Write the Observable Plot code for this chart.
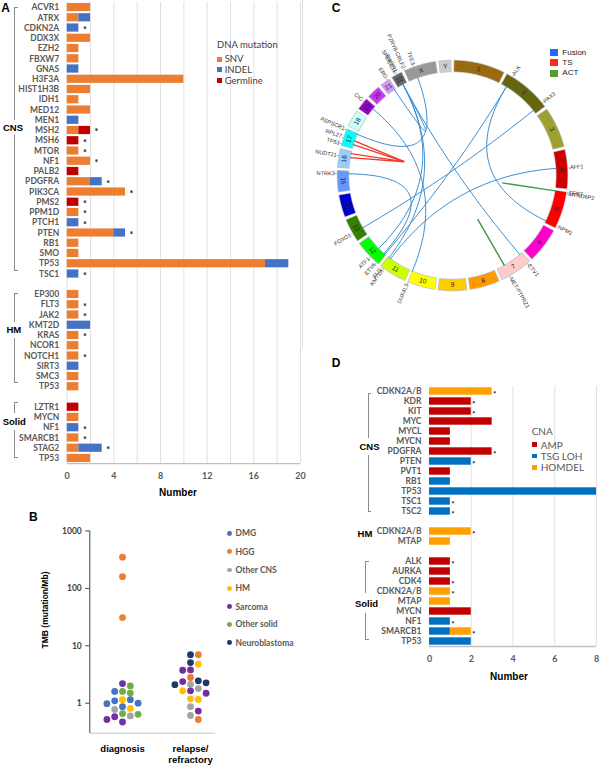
<!DOCTYPE html>
<html>
<head>
<meta charset="utf-8">
<script src="https://cdn.jsdelivr.net/npm/d3@7"></script>
<script src="https://cdn.jsdelivr.net/npm/@observablehq/plot@0.6"></script>
<style>
  html,body{margin:0;padding:0;background:#fff;}
  #fig{position:relative;width:601px;height:767px;overflow:hidden;background:#fff;font-family:Lato,"Liberation Sans",Arial,sans-serif;}
  #fig svg{position:absolute;overflow:visible;}
  .t{position:absolute;white-space:nowrap;line-height:1;}
  .bx{position:absolute;box-sizing:border-box;}
</style>
</head>
<body>
<div id="fig"></div>
<script>
// ================= Panel A : DNA mutations =================
const mutTypes = ["SNV", "INDEL", "Germline"];
const mutColors = ["#ED7D31", "#4472C4", "#C00000"];
const mutTicks = [0, 4, 8, 12, 16, 20];

const mutCnsGenes = ["ACVR1","ATRX","CDKN2A","DDX3X","EZH2","FBXW7","GNAS","H3F3A","HIST1H3B","IDH1","MED12","MEN1","MSH2","MSH6","MTOR","NF1","PALB2","PDGFRA","PIK3CA","PMS2","PPM1D","PTCH1","PTEN","RB1","SMO","TP53","TSC1"];
const mutCnsSNV      = [2,1,0,2,1,1,0,10,2,1,2,0,1,0,1,2,0,2,5,0,1,0,4,1,1,17,0];
const mutCnsINDEL    = [0,1,1,0,0,0,1,0,0,0,0,1,0,0,0,0,0,1,0,0,0,1,1,0,0,2,1];
const mutCnsGermline = [0,0,0,0,0,0,0,0,0,0,0,0,1,1,0,0,1,0,0,1,0,0,0,0,0,0,0];
const mutCnsStar     = [0,0,1,0,0,0,0,0,0,0,0,0,1,1,1,1,0,1,1,1,1,1,1,0,0,0,1];

const mutHmGenes    = ["EP300","FLT3","JAK2","KMT2D","KRAS","NCOR1","NOTCH1","SIRT3","SMC3","TP53"];
const mutHmSNV      = [1,1,1,0,1,1,1,0,1,1];
const mutHmINDEL    = [0,0,0,2,0,0,0,1,0,0];
const mutHmGermline = [0,0,0,0,0,0,0,0,0,0];
const mutHmStar     = [0,1,1,0,1,0,1,0,0,0];

const mutSolidGenes    = ["LZTR1","MYCN","NF1","SMARCB1","STAG2","TP53"];
const mutSolidSNV      = [0,1,0,1,1,2];
const mutSolidINDEL    = [0,0,1,0,2,0];
const mutSolidGermline = [1,0,0,0,0,0];
const mutSolidStar     = [0,0,1,1,1,0];

// ================= Panel B : TMB =================
const tmbCategories = ["diagnosis", "relapse/\nrefractory"];
const tmbTypes  = ["DMG","HGG","Other CNS","HM","Sarcoma","Other solid","Neuroblastoma"];
const tmbColors = ["#4472C4","#ED7D31","#A5A5A5","#FFC000","#7030A0","#70AD47","#203864"];
const tmbTicks = [1, 10, 100, 1000];
const tmbDiagnosisType  = ["HGG","HGG","HGG","Sarcoma","Other solid","Other solid","DMG","Other solid","HM","DMG","DMG","DMG","DMG","DMG","HM","Other CNS","Other solid","Other solid","Other CNS","Sarcoma","Sarcoma","Sarcoma"];
const tmbDiagnosisValue = [350,160,31,2.2,2.0,1.6,1.6,1.5,1.15,1.15,1.1,1.0,0.98,0.87,0.81,0.78,0.66,0.64,0.60,0.58,0.52,0.47];
const tmbRelapseType  = ["Neuroblastoma","HGG","Neuroblastoma","HM","Sarcoma","Sarcoma","HGG","Neuroblastoma","Sarcoma","Neuroblastoma","Other CNS","Neuroblastoma","Other CNS","Sarcoma","HM","Sarcoma","HM","HM","Other CNS","Sarcoma","Other CNS","HGG"];
const tmbRelapseValue = [7.0,7.0,5.1,4.8,3.8,3.75,2.8,2.45,2.38,2.26,2.13,2.1,1.8,1.64,1.64,1.49,1.19,1.16,0.87,0.73,0.61,0.52];

// ================= Panel C : circos =================
const chrNames = ["1","2","3","4","5","6","7","8","9","10","11","12","13","14","15","16","17","18","19","20","21","22","X","Y"];
const chrLengthsMb = [249,242,198,190,181,171,159,145,138,134,135,133,114,107,102,90,83,80,59,64,47,51,156,57];
const chrColors = ["#9A6A10","#666610","#A0A030","#CC0000","#FF0000","#FF00CC","#FFCCCC","#FF9900","#FFCC00","#FFFF00","#CCFF00","#00FF00","#358000","#0000CC","#6699FF","#99CCFF","#00FFFF","#CCFFFF","#9900CC","#CC33FF","#CC99FF","#666666","#999999","#CCCCCC"];
const svTypes = ["Fusion", "TS", "ACT"];
const svLegendColors = ["#1A6CFF", "#FF2A1A", "#5B9B2E"];
const svLineColors = ["#3B8ED0", "#EF3B2C", "#3A9A45"];
// [chrA, posMb, chrB, posMb]
const fusionLinks = [["2",29.4,"5",171],["2",29.4,"12",5],["2",223,"13",41],["4",88,"11",118.3],["22",29.7,"7",14],["22",29.7,"11",128.6],["22",29.7,"12",51],["12",12,"15",88.5],["17",80,"X",49],["19",42.8,"10",135],["21",39.8,"22",29.7]];
const tsLinks  = [["17",41,"17",7.5],["17",20,"17",7.5],["16",78,"17",7.5],["16",56,"17",7.5]];
const actLinks = [["5",1.3,"5",1.3],["7",116,"7",116]];
const geneLabels = [["2",29.4,"ALK"],["2",223,"PAX3"],["4",88,"AFF1"],["5",0.5,"TERT"],["5",8,"MTND6P2"],["5",171,"NPM1"],["7",14,"ETV1"],["7",118,"MET-PTPRZ1"],["10",135,"DUX4L3"],["11",118.3,"KMT2A"],["11",128.6,"FLI1"],["12",12,"ETV6"],["12",51,"ATF1"],["13",41,"FOXO1"],["15",88.5,"NTRK3"],["16",56,"NUDT21"],["17",7.5,"TP53"],["17",41,"RPL27"],["17",80,"ASPSCR1"],["19",42.8,"CIC"],["21",39.8,"ERG"],["22",24.7,"SPECC1L"],["22",29.7,"EWSR1"],["X",1.5,"P2RY8-CRLF2"],["X",49,"TFE3"]];

// ================= Panel D : CNA =================
const cnaTypes = ["AMP", "TSG LOH", "HOMDEL"];
const cnaColors = ["#C00000", "#0070C0", "#FFA000"];
const cnaTicks = [0, 2, 4, 6, 8];
const cnaCnsGenes  = ["CDKN2A/B","KDR","KIT","MYC","MYCL","MYCN","PDGFRA","PTEN","PVT1","RB1","TP53","TSC1","TSC2"];
const cnaCnsAMP    = [0,2,2,3,1,1,3,0,1,0,0,0,0];
const cnaCnsLOH    = [0,0,0,0,0,0,0,2,0,1,8,1,1];
const cnaCnsHOMDEL = [3,0,0,0,0,0,0,0,0,0,0,0,0];
const cnaCnsStar   = [1,1,1,0,0,0,1,1,0,0,0,1,1];
const cnaHmGenes  = ["CDKN2A/B","MTAP"];
const cnaHmAMP    = [0,0];
const cnaHmLOH    = [0,0];
const cnaHmHOMDEL = [2,1];
const cnaHmStar   = [1,0];
const cnaSolidGenes  = ["ALK","AURKA","CDK4","CDKN2A/B","MTAP","MYCN","NF1","SMARCB1","TP53"];
const cnaSolidAMP    = [1,1,1,0,0,2,0,0,0];
const cnaSolidLOH    = [0,0,0,0,0,0,1,1,2];
const cnaSolidHOMDEL = [0,0,0,1,1,0,0,1,0];
const cnaSolidStar   = [1,0,1,1,0,0,1,1,0];

// ---------------- helpers ----------------
const fig = document.getElementById("fig");
function place(el, left, top) { el.style.left = left + "px"; el.style.top = top + "px"; fig.appendChild(el); }
function txt(s, x, y, css, anchor) {
  const d = document.createElement("div"); d.className = "t"; d.textContent = s;
  d.style.left = x + "px"; d.style.top = y + "px";
  const a = anchor || "middle";
  d.style.transform = a === "middle" ? "translate(-50%,-50%)" : a === "start" ? "translate(0,-50%)" : "translate(-100%,-50%)";
  Object.assign(d.style, css || {}); fig.appendChild(d); return d;
}
function box(x, y, w, h, css) {
  const d = document.createElement("div"); d.className = "bx";
  Object.assign(d.style, {left: x + "px", top: y + "px", width: w + "px", height: h + "px"}, css || {});
  fig.appendChild(d); return d;
}
function bracket(x, yTop, gapTop, gapBottom, yBottom) {
  const b = "1px solid #8c8c8c";
  box(x, yTop, 3.5, gapTop - yTop, {borderLeft: b, borderTop: b});
  box(x, gapBottom, 3.5, yBottom - gapBottom, {borderLeft: b, borderBottom: b});
}
function buildBars(groups) {
  const rows = []; let i = 0;
  groups.forEach((g, gi) => {
    if (gi > 0) i++;
    g.genes.forEach((gene, j) => {
      const vals = g.series.map(s => s[j]);
      rows.push({i, gene, vals, total: d3.sum(vals), star: g.star[j] === 1});
      i++;
    });
  });
  const segs = [];
  rows.forEach(r => { let c = 0; r.vals.forEach((v, k) => { if (v > 0) { segs.push({row: r.i, x1: c, x2: c + v, type: k}); c += v; } }); });
  return {rows, segs, n: i};
}

const axisStyle = {background: "none", fontFamily: "Lato, 'Liberation Sans', Arial, sans-serif", fontSize: "8.5px", fontWeight: "bold", color: "#595959"};

// ================= Plot A =================
const A = buildBars([
  {genes: mutCnsGenes, series: [mutCnsSNV, mutCnsINDEL, mutCnsGermline], star: mutCnsStar},
  {genes: mutHmGenes, series: [mutHmSNV, mutHmINDEL, mutHmGermline], star: mutHmStar},
  {genes: mutSolidGenes, series: [mutSolidSNV, mutSolidINDEL, mutSolidGermline], star: mutSolidStar}
]);
const geneA = new Map(A.rows.map(r => [r.i, r.gene]));
const plotA = Plot.plot({
  width: 302, height: 500,
  marginLeft: 66.7, marginRight: 2, marginTop: 1.9, marginBottom: 36.9,
  x: {domain: [mutTicks[0], mutTicks[mutTicks.length - 1]]},
  y: {domain: [-0.5, A.n - 0.5], reverse: true},
  color: {domain: mutTypes, range: mutColors},
  style: axisStyle,
  marks: [
    Plot.ruleX(d3.range(0, 21, 2), {stroke: "#dedede", strokeWidth: 0.9}),
    Plot.ruleY([A.n - 0.5], {stroke: "#bfbfbf", strokeWidth: 1.4}),
    Plot.rect(A.segs, {x1: "x1", x2: "x2", y1: d => d.row - 0.4, y2: d => d.row + 0.4, fill: d => mutTypes[d.type]}),
    Plot.text(A.rows.filter(r => r.star), {x: "total", y: "i", text: () => "*", dx: 6, dy: 2, fontSize: 9, fill: "#111", fontWeight: "bold"}),
    Plot.axisY(A.rows.map(r => r.i), {tickFormat: i => geneA.get(i), tickSize: 0, tickPadding: 8, label: null}),
    Plot.axisX(mutTicks, {tickSize: 0, tickPadding: 9, label: null, fontSize: 9})
  ]
});
place(plotA, 0, 0);

// ================= Plot B =================
const tmbYDomain = [0.3, 1000];
const bLeft = 89.3, bRight = 215, bTop = 30.5, bBottom = 232.7;
const xB0 = 122, xB1 = 190, slotPx = 7.8;
const pxPerUnit = xB1 - xB0;
const xDomB = [(bLeft - xB0) / pxPerUnit, 1 + (bRight - xB1) / pxPerUnit];
const yPixB = d3.scaleLog(tmbYDomain, [bBottom, bTop]);
function swarm(values) {
  const placed = []; const slots = [0, 1, -1, 2, -2, 3, -3, 4, -4];
  return values.map(v => {
    const py = yPixB(v);
    for (const s of slots) {
      if (placed.every(p => p.s !== s || Math.abs(p.py - py) >= 6.2)) { placed.push({s, py}); return s; }
    }
    return 0;
  });
}
const dotsB = [];
[[tmbDiagnosisType, tmbDiagnosisValue], [tmbRelapseType, tmbRelapseValue]].forEach(([types, vals], g) => {
  const slots = swarm(vals);
  vals.forEach((v, k) => dotsB.push({x: g + slots[k] * slotPx / pxPerUnit, v, type: types[k]}));
});
const plotB = Plot.plot({
  width: 300, height: 267,
  marginLeft: bLeft, marginRight: 300 - bRight, marginTop: bTop, marginBottom: 267 - bBottom,
  x: {domain: xDomB, axis: null},
  y: {type: "log", domain: tmbYDomain},
  color: {domain: tmbTypes, range: tmbColors},
  style: {...axisStyle, color: "#404040"},
  marks: [
    Plot.ruleY([tmbYDomain[0]], {stroke: "#d9d9d9", strokeWidth: 1.4}),
    Plot.ruleX([xDomB[0]], {stroke: "#404040", strokeWidth: 1}),
    Plot.axisY(tmbTicks, {tickSize: 4, tickPadding: 4, tickFormat: d => String(d), label: null}),
    Plot.dot(dotsB, {x: "x", y: "v", r: 3.4, fill: "type"}),
    Plot.text(tmbCategories, {x: (d, i) => i, y: () => tmbYDomain[0], text: d => d, lineAnchor: "top", dy: 10, lineHeight: 1.25, fontSize: 9.5, fontWeight: "bold", fill: "#000", fontFamily: "'Liberation Sans', Arial, sans-serif"})
  ]
});
place(plotB, 0, 500);

// ================= Plot C =================
const gapDeg = 1.8;
const degPerMb = (360 - gapDeg * chrNames.length) / d3.sum(chrLengthsMb);
const chrStart = new Map(); let accDeg = gapDeg / 2;
chrNames.forEach((c, i) => { chrStart.set(c, accDeg); accDeg += chrLengthsMb[i] * degPerMb + gapDeg; });
const ang = (c, p) => chrStart.get(c) + p * degPerMb;
const pt = (a, r) => [r * Math.sin(a * Math.PI / 180), r * Math.cos(a * Math.PI / 180)];
const R_IN = 0.904, R_MID = 0.952, R_CORE = 0.437;
const bandPts = [], borderPts = [], chrLab = [];
chrNames.forEach((c, i) => {
  const a0 = chrStart.get(c), a1 = a0 + chrLengthsMb[i] * degPerMb;
  const n = Math.max(2, Math.ceil((a1 - a0) / 0.5));
  for (let k = 0; k <= n; k++) {
    const a = a0 + (a1 - a0) * k / n; const [x, y] = pt(a, R_MID);
    bandPts.push({c, x, y, color: chrColors[i]});
    const b = (a0 - 0.35) + (a1 - a0 + 0.7) * k / n; const [bx, by] = pt(b, R_MID);
    borderPts.push({c, x: bx, y: by});
  }
  const am = (a0 + a1) / 2; const [lx, ly] = pt(am, R_MID);
  chrLab.push({x: lx, y: ly, text: c, rot: (am > 90 && am < 270) ? am - 180 : am});
});
const linkPts = [];
fusionLinks.forEach(([c1, p1, c2, p2], li) => {
  const P0 = pt(ang(c1, p1), R_IN), P2 = pt(ang(c2, p2), R_IN);
  for (let k = 0; k <= 48; k++) {
    const t = k / 48, w0 = (1 - t) * (1 - t), w2 = t * t;
    linkPts.push({li, x: w0 * P0[0] + w2 * P2[0], y: w0 * P0[1] + w2 * P2[1]});
  }
});
const coreLines = [];
[[tsLinks, svLineColors[1]], [actLinks, svLineColors[2]]].forEach(([list, color]) => {
  list.forEach(([c1, p1, c2, p2]) => {
    const [x1, y1] = pt(ang(c1, p1), R_IN), [x2, y2] = pt(ang(c2, p2), R_CORE);
    coreLines.push({x1, y1, x2, y2, color});
  });
});
const glRight = [], glLeft = [];
geneLabels.forEach(([c, p, name]) => {
  const a = ang(c, p); const [x, y] = pt(a, 1.006);
  if (a < 180) glRight.push({x, y, text: "-" + name, rot: a - 90});
  else glLeft.push({x, y, text: name + "-", rot: a + 90});
});
const U = 115;
const plotC = Plot.plot({
  width: 299, height: 350, margin: 0,
  x: {domain: [-150 / U, 149 / U], axis: null},
  y: {domain: [-175 / U, 175 / U], axis: null},
  style: {background: "none", fontFamily: "'Liberation Sans', Arial, sans-serif"},
  marks: [
    Plot.line(borderPts, {x: "x", y: "y", z: "c", stroke: "#c4c4c4", strokeWidth: 12.5, strokeLinecap: "butt"}),
    Plot.line(bandPts, {x: "x", y: "y", z: "c", stroke: "color", strokeWidth: 11, strokeLinecap: "butt"}),
    Plot.text(chrLab, {x: "x", y: "y", text: "text", rotate: "rot", fontSize: 6.5, fill: "#222"}),
    Plot.line(linkPts, {x: "x", y: "y", z: "li", stroke: svLineColors[0], strokeWidth: 1}),
    Plot.link(coreLines, {x1: "x1", y1: "y1", x2: "x2", y2: "y2", stroke: "color", strokeWidth: 1.4}),
    Plot.text(glRight, {x: "x", y: "y", text: "text", rotate: "rot", textAnchor: "start", fontSize: 5.6, fill: "#333"}),
    Plot.text(glLeft, {x: "x", y: "y", text: "text", rotate: "rot", textAnchor: "end", fontSize: 5.6, fill: "#333"})
  ]
});
place(plotC, 302, 0);

// ================= Plot D =================
const D = buildBars([
  {genes: cnaCnsGenes, series: [cnaCnsAMP, cnaCnsLOH, cnaCnsHOMDEL], star: cnaCnsStar},
  {genes: cnaHmGenes, series: [cnaHmAMP, cnaHmLOH, cnaHmHOMDEL], star: cnaHmStar},
  {genes: cnaSolidGenes, series: [cnaSolidAMP, cnaSolidLOH, cnaSolidHOMDEL], star: cnaSolidStar}
]);
const geneD = new Map(D.rows.map(r => [r.i, r.gene]));
const plotD = Plot.plot({
  width: 301, height: 320,
  marginLeft: 129, marginRight: 5, marginTop: 16, marginBottom: 44,
  x: {domain: [cnaTicks[0], cnaTicks[cnaTicks.length - 1]]},
  y: {domain: [-0.5, D.n - 0.5], reverse: true},
  color: {domain: cnaTypes, range: cnaColors},
  style: axisStyle,
  marks: [
    Plot.ruleX(cnaTicks.slice(1), {stroke: "#dedede", strokeWidth: 0.9}),
    Plot.ruleY([D.n - 0.5], {stroke: "#bfbfbf", strokeWidth: 1.4}),
    Plot.rect(D.segs, {x1: "x1", x2: "x2", y1: d => d.row - 0.37, y2: d => d.row + 0.37, fill: d => cnaTypes[d.type]}),
    Plot.text(D.rows.filter(r => r.star), {x: "total", y: "i", text: () => "*", dx: 2.5, dy: 2.5, fontSize: 8, fill: "#111", fontWeight: "bold"}),
    Plot.axisY(D.rows.map(r => r.i), {tickFormat: i => geneD.get(i), tickSize: 0, tickPadding: 8, label: null}),
    Plot.axisX(cnaTicks, {tickSize: 0, tickPadding: 9, label: null, fontSize: 9})
  ]
});
place(plotD, 300, 370);

// ================= Annotations =================
const letter = {fontFamily: "'Liberation Sans', Arial, sans-serif", fontWeight: "bold", fontSize: "12px", color: "#000"};
txt("A", 5.5, 7.5, letter);
txt("B", 33.3, 517, letter);
txt("C", 336, 8, letter);
txt("D", 336, 362.5, letter);

const grp = {fontFamily: "'Liberation Sans', Arial, sans-serif", fontWeight: "bold", fontSize: "9.5px", color: "#000", background: "#fff", padding: "1px 0"};
bracket(14, 7, 120, 135, 271);
bracket(14, 292.7, 322, 338, 383);
bracket(14, 402, 412.7, 430, 458);
txt("CNS", 13, 127.6, grp);
txt("HM", 13.8, 330, grp);
txt("Solid", 14.3, 422.3, grp);

bracket(367.7, 392.7, 438, 455, 511.7);
bracket(365.3, 560.7, 593, 613, 640);
txt("CNS", 369.5, 446.7, grp);
txt("HM", 365, 534, grp);
txt("Solid", 366.5, 604, grp);

const axTitle = {fontFamily: "'Liberation Sans', Arial, sans-serif", fontWeight: "bold", fontSize: "10px", color: "#000"};
txt("Number", 178, 493, axTitle);
txt("Number", 509, 677, axTitle);
const tmbLab = txt("TMB (mutation/Mb)", 45, 610, {fontFamily: "'Liberation Sans', Arial, sans-serif", fontWeight: "bold", fontSize: "8.5px", color: "#000"});
tmbLab.style.transform = "translate(-50%,-50%) rotate(-90deg)";

// legend A
const legA = {fontSize: "9.5px", color: "#404040"};
txt("DNA mutation", 217, 45.3, legA, "start");
[59.3, 69.7, 80.7].forEach((y, k) => {
  box(216.7, y - 2.8, 5.5, 5.5, {background: mutColors[k]});
  txt(mutTypes[k], 224.7, y, legA, "start");
});
// legend B
const legB = {fontSize: "8.5px", fontWeight: "bold", color: "#595959"};
[533.3, 551.7, 570, 588.3, 606.7, 624.3, 642.7].forEach((y, k) => {
  box(227.3, y - 2.4, 4.8, 4.8, {background: tmbColors[k], borderRadius: "50%"});
  txt(tmbTypes[k], 235.5, y, legB, "start");
});
// legend C
box(302, 0, 1, 347, {background: "#dcdcdc"});
const legC = {fontFamily: "'Liberation Sans', Arial, sans-serif", fontSize: "8px", color: "#222"};
[52.7, 62.7, 73.3].forEach((y, k) => {
  box(550, y - 3.6, 8, 7.2, {background: svLegendColors[k]});
  txt(svTypes[k], 562.3, y, legC, "start");
});
// legend D
const legD = {fontSize: "10px", color: "#595959"};
txt("CNA", 531.7, 431, legD, "start");
[444.7, 456, 467.3].forEach((y, k) => {
  box(532.3, y - 2.4, 4.8, 4.8, {background: cnaColors[k]});
  txt(cnaTypes[k], 540.7, y, legD, "start");
});
</script>
</body>
</html>
